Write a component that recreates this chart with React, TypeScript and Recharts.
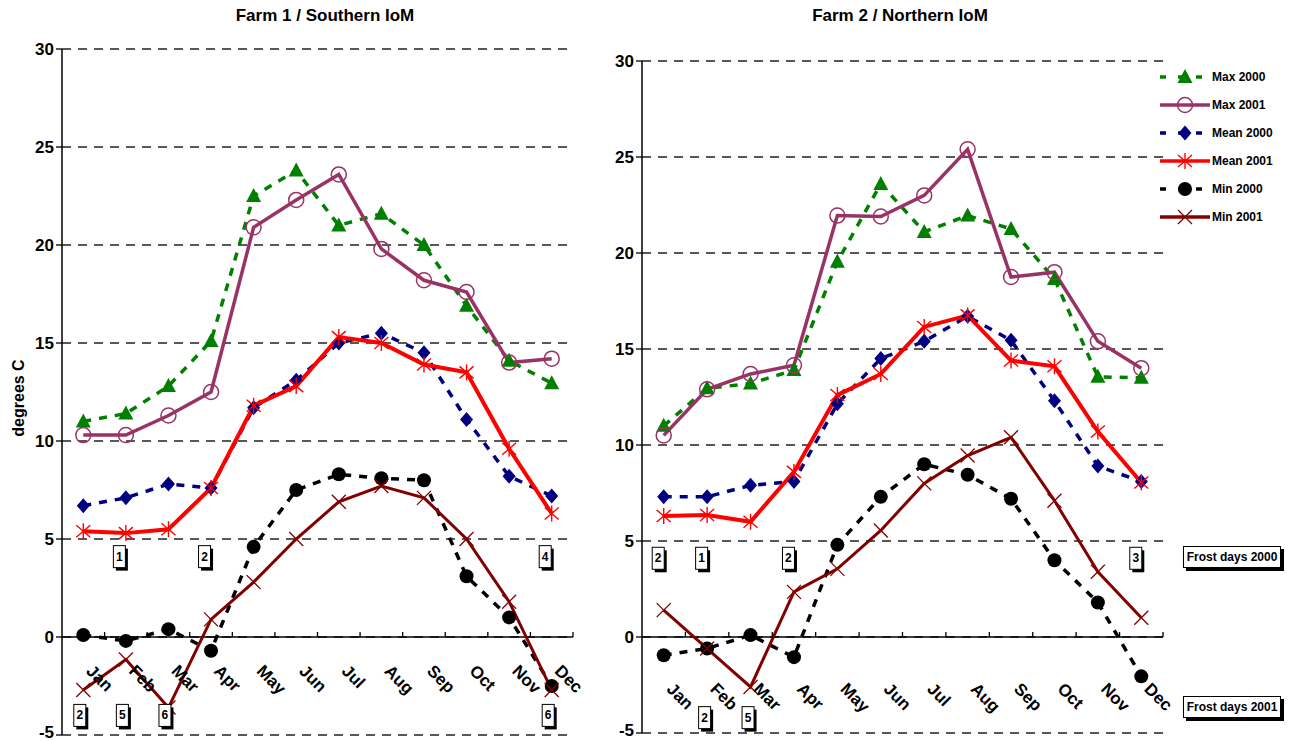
import React from "react";
import {
  ComposedChart,
  Line,
  XAxis,
  YAxis,
  CartesianGrid,
  ReferenceLine,
  ReferenceDot,
} from "recharts";

const FONT = '"Liberation Sans", Arial, Helvetica, sans-serif';

const months = ["Jan", "Feb", "Mar", "Apr", "May", "Jun", "Jul", "Aug", "Sep", "Oct", "Nov", "Dec"];
const yTicks = [-5, 0, 5, 10, 15, 20, 25, 30];

// Farm 1 / Southern IoM
const southMax2000 = [11.0, 11.4, 12.8, 15.1, 22.5, 23.8, 21.0, 21.6, 20.0, 16.9, 14.1, 12.95];
const southMax2001 = [10.3, 10.3, 11.3, 12.5, 20.9, 22.3, 23.6, 19.8, 18.2, 17.6, 14.0, 14.2];
const southMean2000 = [6.7, 7.1, 7.8, 7.6, 11.7, 13.1, 15.0, 15.5, 14.5, 11.1, 8.2, 7.2];
const southMean2001 = [5.4, 5.3, 5.5, 7.6, 11.8, 12.8, 15.3, 15.0, 13.9, 13.5, 9.6, 6.3];
const southMin2000 = [0.1, -0.2, 0.4, -0.7, 4.6, 7.5, 8.3, 8.1, 8.0, 3.1, 1.0, -2.5];
const southMin2001 = [-2.7, -1.15, -3.6, 0.9, 2.8, 5.0, 6.9, 7.7, 7.1, 5.0, 1.8, -2.7];
const southFrost2000 = [
  { month: "Feb", days: 1 },
  { month: "Apr", days: 2 },
  { month: "Dec", days: 4 },
];
const southFrost2001 = [
  { month: "Jan", days: 2 },
  { month: "Feb", days: 5 },
  { month: "Mar", days: 6 },
  { month: "Dec", days: 6 },
];

// Farm 2 / Northern IoM
const northMax2000 = [11.0, 12.95, 13.2, 13.9, 19.55, 23.6, 21.1, 21.95, 21.25, 18.65, 13.55, 13.5];
const northMax2001 = [10.5, 12.9, 13.7, 14.15, 21.95, 21.9, 23.0, 25.4, 18.75, 19.0, 15.4, 14.0];
const northMean2000 = [7.3, 7.3, 7.9, 8.1, 12.15, 14.5, 15.4, 16.7, 15.45, 12.3, 8.9, 8.1];
const northMean2001 = [6.3, 6.35, 6.0, 8.6, 12.6, 13.7, 16.15, 16.75, 14.4, 14.1, 10.7, 8.05];
const northMin2000 = [-0.95, -0.6, 0.1, -1.05, 4.8, 7.3, 9.0, 8.45, 7.2, 4.0, 1.8, -2.05];
const northMin2001 = [1.4, -0.6, -2.6, 2.35, 3.55, 5.55, 8.0, 9.45, 10.4, 7.1, 3.4, 1.0];
const northFrost2000 = [
  { month: "Jan", days: 2 },
  { month: "Feb", days: 1 },
  { month: "Apr", days: 2 },
  { month: "Dec", days: 3 },
];
const northFrost2001 = [
  { month: "Feb", days: 2 },
  { month: "Mar", days: 5 },
];

const C = {
  max2000: "#008000",
  max2001: "#993366",
  mean2000: "#000080",
  mean2001: "#ff0000",
  min2000: "#000000",
  min2001: "#800000",
};

// markers
const triangle = (cx: number, cy: number, color: string) => (
  <polygon points={`${cx},${cy - 8} ${cx - 7.5},${cy + 6} ${cx + 7.5},${cy + 6}`} fill={color} />
);
const hollowCircle = (cx: number, cy: number, color: string) => (
  <circle cx={cx} cy={cy} r={7.5} fill="none" stroke={color} strokeWidth={1.5} />
);
const diamond = (cx: number, cy: number, color: string) => (
  <polygon points={`${cx},${cy - 7.5} ${cx + 6.5},${cy} ${cx},${cy + 7.5} ${cx - 6.5},${cy}`} fill={color} />
);
const star = (cx: number, cy: number, color: string) => (
  <g stroke={color} strokeWidth={1.4}>
    <line x1={cx} y1={cy - 8} x2={cx} y2={cy + 8} />
    <line x1={cx - 7} y1={cy - 6} x2={cx + 7} y2={cy + 6} />
    <line x1={cx - 7} y1={cy + 6} x2={cx + 7} y2={cy - 6} />
  </g>
);
const blackDot = (cx: number, cy: number, color: string) => <circle cx={cx} cy={cy} r={7} fill={color} />;
const cross = (cx: number, cy: number, color: string) => (
  <g stroke={color} strokeWidth={1.3}>
    <line x1={cx - 7} y1={cy - 7} x2={cx + 7} y2={cy + 7} />
    <line x1={cx - 7} y1={cy + 7} x2={cx + 7} y2={cy - 7} />
  </g>
);

type Marker = (cx: number, cy: number, color: string) => React.ReactElement;

const dotFor = (m: Marker, color: string) => (p: any) =>
  p.cx == null ? <g key={p.index} /> : <g key={p.index}>{m(p.cx, p.cy, color)}</g>;

const seriesDefs: { key: string; name: string; color: string; dashed: boolean; marker: Marker; width: number }[] = [
  { key: "max2000", name: "Max 2000", color: C.max2000, dashed: true, marker: triangle, width: 3.5 },
  { key: "max2001", name: "Max 2001", color: C.max2001, dashed: false, marker: hollowCircle, width: 3.5 },
  { key: "mean2000", name: "Mean 2000", color: C.mean2000, dashed: true, marker: diamond, width: 3.5 },
  { key: "mean2001", name: "Mean 2001", color: C.mean2001, dashed: false, marker: star, width: 4 },
  { key: "min2000", name: "Min 2000", color: C.min2000, dashed: true, marker: blackDot, width: 3.5 },
  { key: "min2001", name: "Min 2001", color: C.min2001, dashed: false, marker: cross, width: 3 },
];

const frostBox = (days: number, dx: number) => (p: any) => {
  const x = p.cx + dx;
  const y = p.cy;
  return (
    <g>
      <rect x={x - 5.5 + 2.5} y={y - 11 + 3} width={12} height={22} fill="#000" />
      <rect x={x - 5.5} y={y - 11} width={12} height={22} fill="#fff" stroke="#000" strokeWidth={1} />
      <text x={x + 0.5} y={y + 4} textAnchor="middle" fontSize={12} fontWeight="bold" fontFamily={FONT} fill="#000">
        {days}
      </text>
    </g>
  );
};

interface PanelProps {
  left: number;
  width: number;
  margin: { top: number; right: number; bottom: number; left: number };
  yWidth: number;
  labelDy: number;
  frostDx: number;
  data: any[];
  frost2000: { month: string; days: number }[];
  frost2001: { month: string; days: number }[];
  frost2000Y: number;
  frost2001Y: number;
  yLabel?: string;
}

function Panel(props: PanelProps) {
  const H = 741;
  const top = props.margin.top;
  const bottom = H - props.margin.bottom - 1;
  const zeroY = top + (30 / 35) * (bottom - top);
  const plotW = props.width - props.margin.right - props.yWidth;
  const bw = plotW / months.length;

  const renderXTick = (t: any) => {
    const x = t.x;
    const ax = x + 2;
    const ay = zeroY + props.labelDy;
    return (
      <g>
        <line x1={x + bw / 2} x2={x + bw / 2} y1={zeroY - 5} y2={zeroY} stroke="#000" strokeWidth={1.3} />
        <text
          x={ax}
          y={ay}
          transform={`rotate(45 ${ax} ${ay})`}
          fontSize={17}
          fontWeight="bold"
          fontFamily={FONT}
          fill="#000"
        >
          {t.payload.value}
        </text>
      </g>
    );
  };

  const renderYTick = (t: any) => {
    const v = t.payload.value;
    return (
      <text
        x={t.x}
        y={t.y + (v === -5 ? 3 : 6)}
        textAnchor="end"
        fontSize={17}
        fontWeight="bold"
        fontFamily={FONT}
        fill="#000"
      >
        {v}
      </text>
    );
  };

  return (
    <div style={{ position: "absolute", left: props.left, top: 0 }}>
      <ComposedChart width={props.width} height={H} data={props.data} margin={props.margin}>
        <CartesianGrid horizontal vertical={false} stroke="#222" strokeDasharray="9 7" strokeWidth={1.3} />
        <XAxis
          dataKey="month"
          height={1}
          axisLine={false}
          tickLine={false}
          interval={0}
          padding={{ left: bw / 2, right: bw / 2 }}
          tick={renderXTick}
        />
        <YAxis
          domain={[-5, 30]}
          ticks={yTicks}
          interval={0}
          width={props.yWidth}
          axisLine={{ stroke: "#000", strokeWidth: 1.5 }}
          tickLine={{ stroke: "#000", strokeWidth: 1.3 }}
          tickSize={6}
          tickMargin={2}
          tick={renderYTick}
          label={
            props.yLabel
              ? (lp: any) => {
                  const vb = lp.viewBox || { y: top, height: bottom - top };
                  const cy = vb.y + vb.height / 2 + 6;
                  return (
                    <text
                      x={24}
                      y={cy}
                      transform={`rotate(-90 24 ${cy})`}
                      textAnchor="middle"
                      fontSize={16}
                      fontWeight="bold"
                      fontFamily={FONT}
                      fill="#000"
                    >
                      {props.yLabel}
                    </text>
                  );
                }
              : undefined
          }
        />
        <ReferenceLine y={0} stroke="#000" strokeWidth={1.5} />
        {seriesDefs.map((s) => (
          <Line
            key={s.key}
            type="linear"
            dataKey={s.key}
            stroke={s.color}
            strokeWidth={s.width}
            strokeDasharray={s.dashed ? "8 8" : undefined}
            dot={dotFor(s.marker, s.color)}
            activeDot={false}
            isAnimationActive={false}
          />
        ))}
        {props.frost2000.map((f) => (
          <ReferenceDot
            key={"f0" + f.month}
            x={f.month}
            y={props.frost2000Y}
            ifOverflow="visible"
            shape={frostBox(f.days, props.frostDx)}
          />
        ))}
        {props.frost2001.map((f) => (
          <ReferenceDot
            key={"f1" + f.month}
            x={f.month}
            y={props.frost2001Y}
            ifOverflow="visible"
            shape={frostBox(f.days, props.frostDx + 3)}
          />
        ))}
      </ComposedChart>
    </div>
  );
}

const buildRows = (
  max2000: number[],
  max2001: number[],
  mean2000: number[],
  mean2001: number[],
  min2000: number[],
  min2001: number[]
) =>
  months.map((m, i) => ({
    month: m,
    max2000: max2000[i],
    max2001: max2001[i],
    mean2000: mean2000[i],
    mean2001: mean2001[i],
    min2000: min2000[i],
    min2001: min2001[i],
  }));

const southRows = buildRows(southMax2000, southMax2001, southMean2000, southMean2001, southMin2000, southMin2001);
const northRows = buildRows(northMax2000, northMax2001, northMean2000, northMean2001, northMin2000, northMin2001);

function LegendBox() {
  return (
    <div style={{ position: "absolute", left: 1158, top: 63 }}>
      {seriesDefs.map((s) => (
        <div key={s.key} style={{ display: "flex", alignItems: "center", height: 28 }}>
          <svg width={54} height={18} style={{ display: "block" }}>
            <line
              x1={2}
              x2={52}
              y1={9}
              y2={9}
              stroke={s.color}
              strokeWidth={3.5}
              strokeDasharray={s.dashed ? "6 12" : undefined}
            />
            {s.marker(27, 9, s.color)}
          </svg>
          <span style={{ fontFamily: FONT, fontWeight: "bold", fontSize: 12, color: "#000" }}>{s.name}</span>
        </div>
      ))}
    </div>
  );
}

const frostLabel = (text: string, top: number) => (
  <div
    style={{
      position: "absolute",
      left: 1183,
      top,
      width: 96,
      height: 20,
      border: "1px solid #000",
      background: "#fff",
      boxShadow: "3px 3px 0 #000",
      fontFamily: FONT,
      fontWeight: "bold",
      fontSize: 12,
      lineHeight: "20px",
      textAlign: "center",
      color: "#000",
    }}
  >
    {text}
  </div>
);

export default function App() {
  return (
    <div
      style={{
        position: "absolute",
        left: 0,
        top: 0,
        width: 1293,
        height: 741,
        background: "#fff",
        overflow: "hidden",
        fontFamily: FONT,
      }}
    >
      <Panel
        left={0}
        width={600}
        margin={{ top: 49, right: 27, bottom: 5, left: 0 }}
        yWidth={62}
        labelDy={35}
        frostDx={-7}
        data={southRows}
        frost2000={southFrost2000}
        frost2001={southFrost2001}
        frost2000Y={4.1}
        frost2001Y={-4.0}
        yLabel="degrees C"
      />
      <Panel
        left={600}
        width={693}
        margin={{ top: 61, right: 130, bottom: 7, left: 0 }}
        yWidth={42}
        labelDy={53}
        frostDx={-6}
        data={northRows}
        frost2000={northFrost2000}
        frost2001={northFrost2001}
        frost2000Y={4.1}
        frost2001Y={-4.2}
      />
      <div
        style={{
          position: "absolute",
          left: 225,
          width: 200,
          top: 6,
          textAlign: "center",
          fontWeight: "bold",
          fontSize: 17,
        }}
      >
        Farm 1 / Southern IoM
      </div>
      <div
        style={{
          position: "absolute",
          left: 800,
          width: 200,
          top: 6,
          textAlign: "center",
          fontWeight: "bold",
          fontSize: 17,
        }}
      >
        Farm 2 / Northern IoM
      </div>
      <LegendBox />
      {frostLabel("Frost days 2000", 546)}
      {frostLabel("Frost days 2001", 696)}
    </div>
  );
}
